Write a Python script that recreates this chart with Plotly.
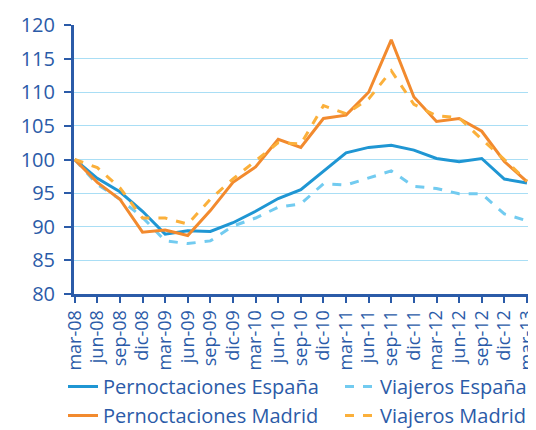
import plotly.graph_objects as go

categories = ["mar-08", "jun-08", "sep-08", "dic-08", "mar-09", "jun-09", "sep-09", "dic-09",
              "mar-10", "jun-10", "sep-10", "dic-10", "mar-11", "jun-11", "sep-11", "dic-11",
              "mar-12", "jun-12", "sep-12", "dic-12", "mar-13"]

pern_espana = [100, 97.2, 95.2, 92.3, 88.9, 89.4, 89.3, 90.6, 92.3, 94.2, 95.5, 98.3,
               101.0, 101.8, 102.1, 101.4, 100.15, 99.65, 100.15, 97.1, 96.5]
viaj_espana = [100, 96.3, 94.1, 91.4, 87.9, 87.5, 87.9, 90.1, 91.3, 92.9, 93.4, 96.4,
               96.2, 97.2, 98.3, 96.0, 95.7, 94.9, 94.9, 91.9, 90.9]
pern_madrid = [100, 96.6, 94.1, 89.2, 89.5, 88.7, 92.4, 96.6, 98.9, 103.0, 101.8, 106.1,
               106.6, 110.0, 117.8, 109.3, 105.65, 106.1, 104.2, 99.7, 96.7]
viaj_madrid = [100, 98.8, 95.8, 91.3, 91.3, 90.4, 94.1, 97.1, 99.8, 102.5, 102.3, 108.0,
               106.8, 109.0, 113.2, 108.2, 106.5, 106.2, 103.0, 100.0, 96.8]

names = ["Pernoctaciones España", "Viajeros España", "Pernoctaciones Madrid", "Viajeros Madrid"]
colors = ["#1f96d3", "#72cbf0", "#f28a2e", "#fbb03b"]
dashes = ["solid", "dash", "solid", "dash"]
legend_ids = ["legend", "legend2", "legend", "legend2"]
series = [pern_espana, viaj_espana, pern_madrid, viaj_madrid]

axis_color = "#2b5ba8"
x_idx = list(range(len(categories)))

fig = go.Figure()
for name, vals, col, dsh, lg in zip(names, series, colors, dashes, legend_ids):
    fig.add_trace(go.Scatter(x=x_idx, y=vals, mode="lines", name=name, legend=lg,
                             line=dict(color=col, width=3, dash=dsh)))

legend_common = dict(orientation="v", xref="container", yref="container",
                     yanchor="top", xanchor="left", bgcolor="rgba(0,0,0,0)",
                     font=dict(size=20, color=axis_color), tracegroupgap=0,
                     itemwidth=30)

fig.update_layout(
    width=536, height=430,
    margin=dict(l=66, r=8, t=17, b=144, autoexpand=False),
    paper_bgcolor="white", plot_bgcolor="white",
    font=dict(family="Open Sans", color=axis_color),
    showlegend=True,
    legend=dict(x=55 / 536, y=1 - 359 / 430, **legend_common),
    legend2=dict(x=332 / 536, y=1 - 359 / 430, **legend_common),
)
fig.update_xaxes(
    tickmode="array", tickvals=x_idx, ticktext=categories, tickangle=-90,
    range=[-0.03, 20.4], showgrid=False, showline=True, linecolor=axis_color,
    linewidth=3, ticks="outside", tickcolor=axis_color, tickwidth=2, ticklen=6,
    tickfont=dict(size=18, color=axis_color), zeroline=False, automargin=False,
)
fig.update_yaxes(
    range=[80, 120], tickvals=[80, 85, 90, 95, 100, 105, 110, 115, 120],
    showgrid=True, gridcolor="#a9def5", gridwidth=1, showline=True,
    linecolor=axis_color, linewidth=3, ticks="outside", tickcolor=axis_color,
    tickwidth=2, ticklen=7, ticklabelstandoff=5,
    tickfont=dict(size=20, color=axis_color), zeroline=False,
    automargin=False,
)

fig.write_html("out.html")
